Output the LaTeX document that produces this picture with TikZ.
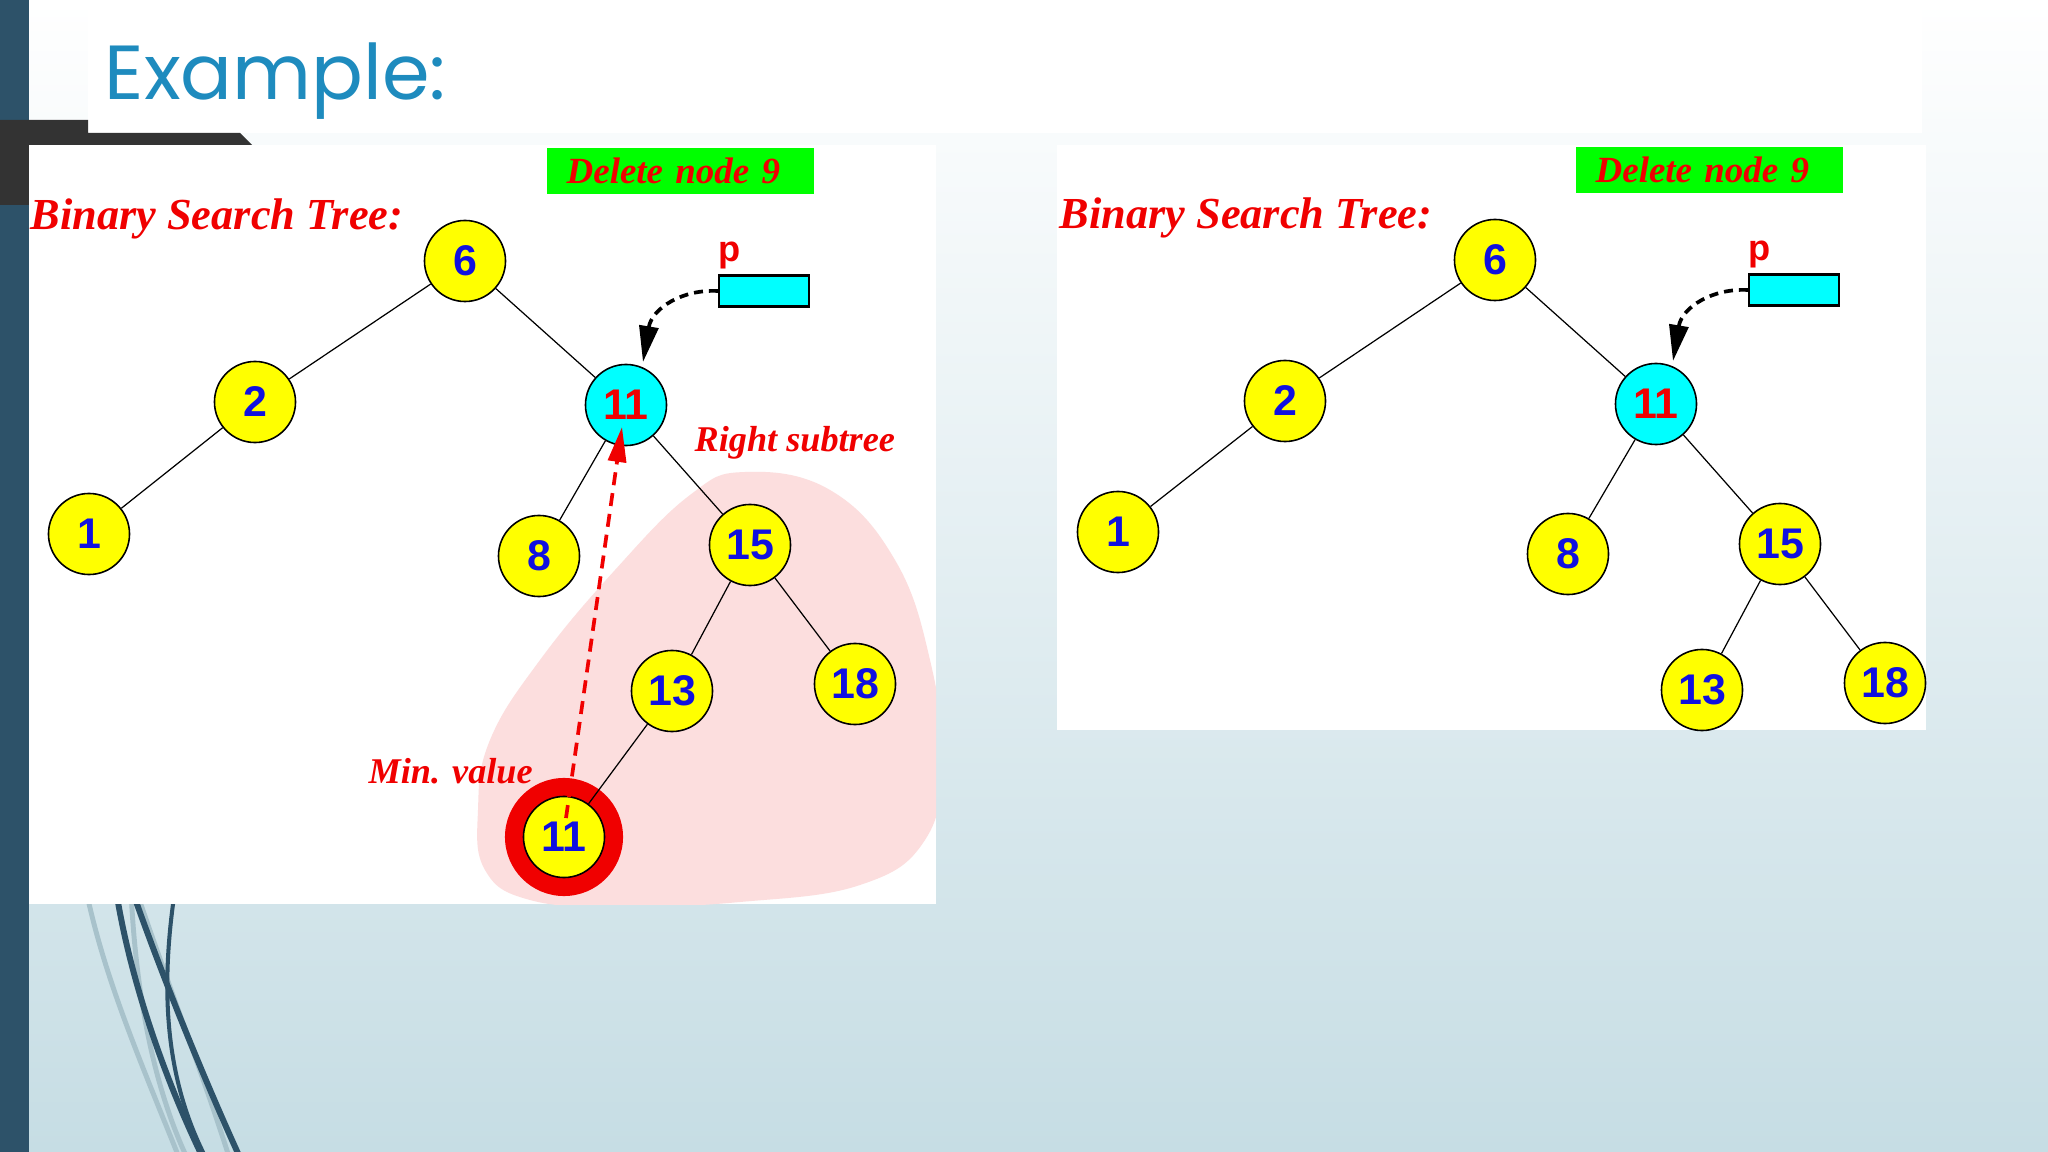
\documentclass[tikz,border=0pt]{standalone}
\usepackage{fontspec}
\setmainfont{Liberation Serif}
\newfontfamily\nodefont{Liberation Sans}
\newfontfamily\titlefont{Poppins}
\usetikzlibrary{arrows.meta}
\definecolor{barblue}{RGB}{45,82,105}
\definecolor{bggray}{RGB}{51,51,51}
\definecolor{titleblue}{RGB}{30,139,190}
\definecolor{nodeyellow}{RGB}{255,255,0}
\definecolor{nodecyan}{RGB}{0,255,255}
\definecolor{txtblue}{RGB}{16,16,224}
\definecolor{txtred}{RGB}{240,0,0}
\definecolor{boxgreen}{RGB}{0,255,0}
\definecolor{blobpink}{RGB}{252,222,222}
\definecolor{bgbottom}{RGB}{198,221,228}
\definecolor{curvelight}{RGB}{168,194,203}
\tikzset{
  bstnode/.style={circle,draw=black,line width=0.45pt,minimum size=0.81cm,inner sep=0pt,fill=nodeyellow,text=txtblue,font=\nodefont\bfseries\fontsize{12.2}{13}\selectfont},
  curnode/.style={bstnode,fill=nodecyan,text=txtred},
  ringnode/.style={circle,fill=txtred,minimum size=1.18cm,inner sep=0pt},
  treeline/.style={draw=black,line width=0.35pt},
  headline/.style={text=txtred,font=\bfseries\itshape\fontsize{12.6}{13}\selectfont,anchor=base west,inner sep=0pt},
  notelabel/.style={text=txtred,font=\bfseries\itshape\fontsize{10.3}{11}\selectfont,anchor=base west,inner sep=0pt},
  delbox/.style={fill=boxgreen,anchor=north west,minimum width=2.67cm,minimum height=0.46cm,text width=2.27cm,inner xsep=0.2cm,inner ysep=0pt,align=left,text=txtred,font=\bfseries\itshape\fontsize{10.5}{11}\selectfont},
  ptrbox/.style={rectangle,draw=black,line width=0.6pt,fill=nodecyan,minimum width=0.9cm,minimum height=0.31cm,inner sep=0pt},
  plabel/.style={text=txtred,font=\nodefont\bfseries\fontsize{10.3}{11}\selectfont,anchor=base west,inner sep=0pt},
  ptrarrow/.style={draw=black,line width=1.05pt,dash pattern=on 0.09cm off 0.06cm,-{Triangle[length=0.36cm,width=0.19cm]}},
  minarrow/.style={draw=txtred,line width=1.05pt,dash pattern=on 0.13cm off 0.08cm,-{Triangle[length=0.35cm,width=0.18cm]}},
  darkcurve/.style={draw=barblue,line width=1.7pt},
  thincurve/.style={draw=barblue,line width=1.15pt},
  lightcurve/.style={draw=curvelight,line width=1.4pt},
}
\begin{document}
\begin{tikzpicture}[x=0.01cm,y=-0.01cm]
\useasboundingbox (0,0) rectangle (2048,1152);
\clip (0,0) rectangle (2048,1152);
% background
\shade[top color=white,bottom color=bgbottom] (0,0) rectangle (2048,1152);
\fill[white] (88,0) rectangle (1922,133);
% decorative curves
\draw[lightcurve] (86,890) .. controls (105,980) and (140,1060) .. (180,1160);
\draw[lightcurve] (131,890) .. controls (135,980) and (150,1080) .. (188,1160);
\draw[lightcurve] (136,890) .. controls (170,990) and (205,1080) .. (230,1160);
\draw[darkcurve] (116,890) .. controls (130,980) and (165,1080) .. (204,1160);
\draw[darkcurve] (132,890) .. controls (160,970) and (200,1070) .. (241,1160);
\draw[thincurve] (175,890) .. controls (160,990) and (165,1080) .. (207,1160);
% left bar and dark piece
\fill[barblue] (0,0) rectangle (29,1152);
\fill[bggray] (0,120) -- (88,120) -- (88,133) -- (240,133) -- (252,145) -- (29,145) -- (29,205) -- (0,205) -- cycle;
% title
\node[anchor=base west,inner sep=0pt,text=titleblue,font=\titlefont\fontsize{21.8}{24}\selectfont] (title) at (104,100) {Example:};
% panels
\fill[white] (29,145) rectangle (936,904);
\fill[white] (1057,145) rectangle (1926,730);
% pink blob
\begin{scope}
\clip (29,145) rectangle (936,904);
\fill[blobpink] plot[smooth cycle,tension=0.7] coordinates {(745,472) (830,490) (895,560) (930,660) (942,760) (925,840) (860,885) (740,902) (620,907) (530,900) (485,870) (478,810) (490,740) (540,660) (615,570) (690,495)};
\end{scope}

% ===== left diagram =====
\node[delbox] (del1) at (546,147) {Delete node 9};
\node[headline] (bst1) at (30,230) {Binary Search Tree:};
\node[ringnode] (ring) at (564,837) {};
\node[bstnode] (a6) at (465,261) {6};
\node[bstnode] (a2) at (255,402) {2};
\node[bstnode] (a1) at (89,534) {1};
\node[curnode] (a11) at (626,405) {11};
\node[bstnode] (a8) at (539,556) {8};
\node[bstnode] (a15) at (750,545) {15};
\node[bstnode] (a13) at (672,691) {13};
\node[bstnode] (a18) at (855,684) {18};
\node[bstnode] (am) at (564,837) {11};
\draw[treeline] (a6) -- (a2);
\draw[treeline] (a2) -- (a1);
\draw[treeline] (a6) -- (a11);
\draw[treeline] (a11) -- (a8);
\draw[treeline] (a11) -- (a15);
\draw[treeline] (a15) -- (a13);
\draw[treeline] (a15) -- (a18);
\draw[treeline] (a13) -- (am);
\node[plabel] (p1) at (718,262) {p};
\node[ptrbox] (pb1) at (764,291) {};
\coordinate (tip1) at (643,362);
\draw[ptrarrow] (pb1.west) .. controls (683,289) and (652,308) .. (tip1);
\node[notelabel] (rs) at (694,452) {Right subtree};
\node[notelabel] (mv) at (368,783) {Min. value};
\coordinate (minstart) at (566,818);
\coordinate (redtip) at (622,427);
\draw[minarrow] (minstart) -- (redtip);

% ===== right diagram =====
\node[delbox] (del2) at (1575,146) {Delete node 9};
\node[headline] (bst2) at (1059,229) {Binary Search Tree:};
\node[bstnode] (b6) at (1495,260) {6};
\node[bstnode] (b2) at (1285,401) {2};
\node[bstnode] (b1) at (1118,532) {1};
\node[curnode] (b11) at (1656,404) {11};
\node[bstnode] (b8) at (1568,554) {8};
\node[bstnode] (b15) at (1780,544) {15};
\node[bstnode] (b13) at (1702,690) {13};
\node[bstnode] (b18) at (1885,683) {18};
\draw[treeline] (b6) -- (b2);
\draw[treeline] (b2) -- (b1);
\draw[treeline] (b6) -- (b11);
\draw[treeline] (b11) -- (b8);
\draw[treeline] (b11) -- (b15);
\draw[treeline] (b15) -- (b13);
\draw[treeline] (b15) -- (b18);
\node[plabel] (p2) at (1748,261) {p};
\node[ptrbox] (pb2) at (1794,290) {};
\coordinate (tip2) at (1673,361);
\draw[ptrarrow] (pb2.west) .. controls (1713,288) and (1682,307) .. (tip2);
\end{tikzpicture}
\end{document}
